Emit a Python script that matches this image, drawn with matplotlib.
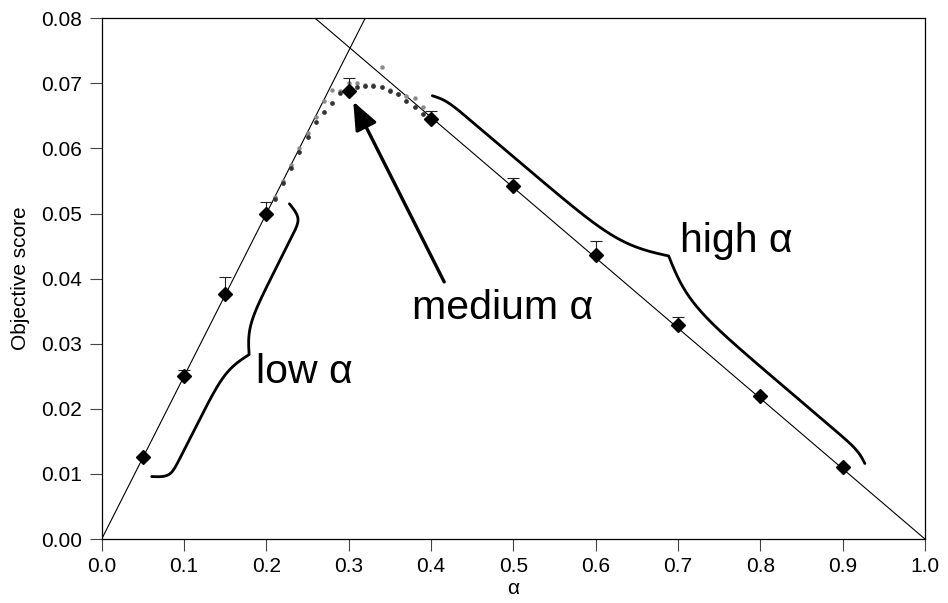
import numpy as np
import matplotlib.pyplot as plt

plt.rcParams['font.family'] = ['Liberation Sans', 'DejaVu Sans']

# measured points (diamonds) with upper error
alpha = [0.05, 0.1, 0.15, 0.2, 0.3, 0.4, 0.5, 0.6, 0.7, 0.8, 0.9]
score = [0.0126, 0.0251, 0.0376, 0.0500, 0.0689, 0.0645, 0.0542, 0.0436, 0.0329, 0.0219, 0.0110]
err_up = [0.0, 0.0009, 0.0027, 0.0018, 0.0020, 0.0013, 0.0013, 0.0022, 0.0012, 0.0002, 0.0001]

# fine sweep, dark dots
fine_a = [0.21, 0.22, 0.23, 0.24, 0.25, 0.26, 0.27, 0.28, 0.29, 0.30,
          0.31, 0.32, 0.33, 0.34, 0.35, 0.36, 0.37, 0.38, 0.39]
fine_dark = [0.0522, 0.0547, 0.0570, 0.0594, 0.0617, 0.0641, 0.0656, 0.0670, 0.0685, 0.0691,
             0.0695, 0.0696, 0.0696, 0.0694, 0.0689, 0.0683, 0.0673, 0.0663, 0.0653]
# second sweep, grey dots
fine_grey = [0.0525, 0.0550, 0.0574, 0.0600, 0.0624, 0.0648, 0.0673, 0.0690, 0.0688, 0.0701,
             0.0700, 0.0697, 0.0697, 0.0725, 0.0690, 0.0684, 0.0681, 0.0677, 0.0664]

# reference lines
slope_low = 0.25
slope_high = 0.108

fig = plt.figure(figsize=(9.48, 6.03), dpi=100)
ax = fig.add_axes([0.1073, 0.1061, 0.8684, 0.8636])
ax.set_xlim(0, 1)
ax.set_ylim(0, 0.08)

xx = np.array([0.0, 1.0])
ax.plot(xx, slope_low * xx, color='black', lw=0.8)
ax.plot(xx, slope_high * (1 - xx), color='black', lw=0.8)

ax.plot(fine_a, fine_grey, 'o', color='#8a8a8a', ms=3.2, mec='none')
ax.plot(fine_a, fine_dark, 'o', color='#333333', ms=3.4, mec='none')

ax.errorbar(alpha, score, yerr=[np.zeros(len(err_up)), err_up], fmt='D', color='black',
            ms=7, ecolor='#222222', elinewidth=0.8, capsize=4, capthick=0.8, zorder=5)


def brace(p0, p1, hook, cusp, b1=20, b2=6, **kw):
    # curly brace drawn in pixel space between two data points
    d0 = ax.transData.transform(p0)
    d1 = ax.transData.transform(p1)
    v = d1 - d0
    t = v / np.hypot(*v)
    n = np.array([t[1], -t[0]])
    s = np.linspace(0, 1, 401)
    u = np.where(s < 0.5, 2 * s, 2 * (1 - s))
    off = hook * np.tanh(b1 * u) + cusp * (1 - np.tanh(b2 * (1 - u)))
    pts = d0 + np.outer(s, v) + np.outer(off, n)
    dat = ax.transData.inverted().transform(pts)
    ax.plot(dat[:, 0], dat[:, 1], color='black', lw=2, solid_capstyle='round', **kw)


brace((0.0607, 0.0096), (0.228, 0.0515), hook=17, cusp=15)
brace((0.927, 0.0116), (0.4016, 0.0681), hook=6, cusp=25)

ax.text(0.188, 0.0239, 'low α', fontsize=29.5, va='baseline', ha='left')
ax.text(0.377, 0.0338, 'medium α', fontsize=29.5, va='baseline', ha='left')
ax.text(0.702, 0.0441, 'high α', fontsize=29.5, va='baseline', ha='left')

ax.annotate('', xy=(0.3056, 0.0672), xytext=(0.416, 0.0395),
            arrowprops=dict(arrowstyle='-|>,head_length=0.85,head_width=0.35',
                            mutation_scale=20, lw=2.4, color='black',
                            shrinkA=0, shrinkB=0))

ax.set_xticks(np.arange(0, 1.01, 0.1))
ax.set_yticks(np.arange(0, 0.081, 0.01))
ax.set_xticklabels(['%.1f' % v for v in np.arange(0, 1.01, 0.1)])
ax.set_yticklabels(['%.2f' % v for v in np.arange(0, 0.081, 0.01)])
ax.tick_params(direction='out', length=8.3, width=0.8, labelsize=15, color='#444444')
ax.tick_params(axis='x', pad=4.5)
ax.tick_params(axis='y', pad=6)
for sp in ax.spines.values():
    sp.set_linewidth(0.9)
ax.set_xlabel('α', fontsize=15, labelpad=2)
ax.set_ylabel('Objective score', fontsize=15, labelpad=8)

fig.savefig('out.png', dpi=100)
